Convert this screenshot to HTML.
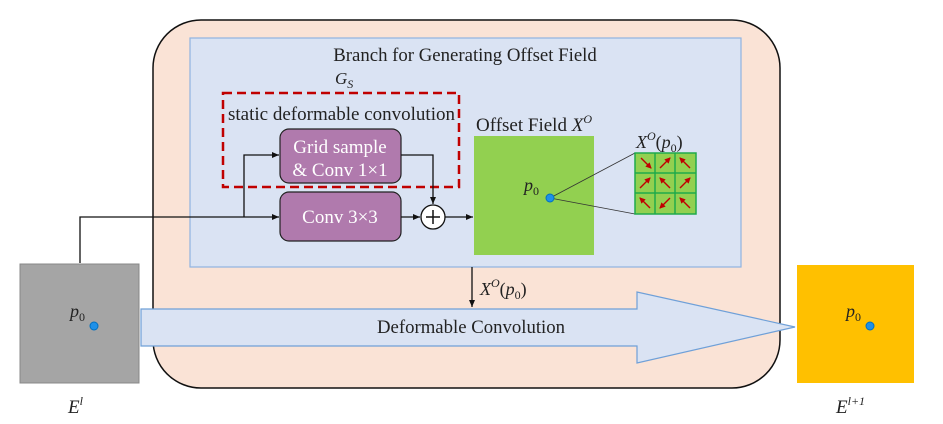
<!DOCTYPE html>
<html><head><meta charset="utf-8"><style>body{margin:0;background:#fff}svg{display:block}text{font-family:"Liberation Serif",serif;fill:#222}</style></head><body>
<svg width="943" height="424" viewBox="0 0 943 424" xmlns="http://www.w3.org/2000/svg">
<defs><marker id="a" markerWidth="8" markerHeight="8" refX="7" refY="4" orient="auto" markerUnits="userSpaceOnUse"><path d="M0,1 L7,4 L0,7 z" fill="#111"/></marker>
<marker id="r" markerWidth="6" markerHeight="6" refX="5" refY="3" orient="auto" markerUnits="userSpaceOnUse"><path d="M0,0 L6,3 L0,6 z" fill="#c00000"/></marker></defs>
<rect x="153" y="20" width="627" height="368" rx="48" fill="#fae3d6" stroke="#111" stroke-width="1.5"/>
<rect x="190" y="38" width="551" height="229" fill="#dae3f3" stroke="#8fb4e0" stroke-width="1.2"/>
<text x="465" y="61" font-size="18.8" text-anchor="middle">Branch for Generating Offset Field</text>
<text x="335" y="84" font-size="17" font-style="italic">G<tspan font-size="12" dy="4">S</tspan></text>
<rect x="223" y="93" width="236" height="94" fill="none" stroke="#c00000" stroke-width="2.5" stroke-dasharray="9,5"/>
<text x="228" y="120" font-size="19" textLength="227" lengthAdjust="spacingAndGlyphs">static deformable convolution</text>
<rect x="280" y="129" width="121" height="54" rx="9" fill="#b07aad" stroke="#222" stroke-width="1.2"/>
<text x="340" y="153" font-size="19" text-anchor="middle" style="fill:#fff">Grid sample</text>
<text x="340" y="176" font-size="19" text-anchor="middle" style="fill:#fff">&amp; Conv 1×1</text>
<rect x="280" y="192" width="121" height="49" rx="9" fill="#b07aad" stroke="#222" stroke-width="1.2"/>
<text x="340" y="223" font-size="19" text-anchor="middle" style="fill:#fff">Conv 3×3</text>
<path d="M80,263 V217 H279" fill="none" stroke="#111" stroke-width="1.3" marker-end="url(#a)"/>
<path d="M244,217 V155 H279" fill="none" stroke="#111" stroke-width="1.3" marker-end="url(#a)"/>
<path d="M401,155 H433 V204" fill="none" stroke="#111" stroke-width="1.3" marker-end="url(#a)"/>
<path d="M401,217 H420" fill="none" stroke="#111" stroke-width="1.3" marker-end="url(#a)"/>
<circle cx="433" cy="217" r="12" fill="#fff" stroke="#111" stroke-width="1.3"/>
<path d="M426,217 H440 M433,210 V224" stroke="#111" stroke-width="1.5"/>
<path d="M445,217 H473" fill="none" stroke="#111" stroke-width="1.3" marker-end="url(#a)"/>
<text x="476" y="131" font-size="19">Offset Field <tspan font-style="italic">X</tspan><tspan font-size="12" dy="-8" font-style="italic">O</tspan></text>
<rect x="474" y="136" width="120" height="119" fill="#92d050"/>
<text x="524" y="191" font-size="18" font-style="italic">p<tspan font-size="12" dy="4" font-style="normal">0</tspan></text>
<line x1="550" y1="198" x2="635" y2="153" stroke="#333" stroke-width="0.8"/>
<line x1="550" y1="198" x2="635" y2="214" stroke="#333" stroke-width="0.8"/>
<circle cx="550" cy="198" r="4.5" fill="#0070c0"/><circle cx="550" cy="198" r="3.5" fill="#1e90e8"/>
<text x="636" y="148" font-size="18"><tspan font-style="italic">X</tspan><tspan font-size="12" dy="-8" font-style="italic">O</tspan><tspan dy="8">(</tspan><tspan font-style="italic">p</tspan><tspan font-size="12" dy="4">0</tspan><tspan dy="-4">)</tspan></text>
<g stroke="#1faa4a" stroke-width="1.5" fill="#92d050"><rect x="635" y="153" width="61" height="61"/><path d="M655,153 V214 M675,153 V214 M635,173 H696 M635,193 H696" fill="none"/></g>
<g stroke="#c00000" stroke-width="1.4" marker-end="url(#r)">
<line x1="641" y1="158" x2="651" y2="168"/><line x1="660" y1="168" x2="670" y2="158"/><line x1="690" y1="168" x2="680" y2="158"/>
<line x1="640" y1="188" x2="650" y2="178"/><line x1="670" y1="188" x2="660" y2="178"/><line x1="680" y1="188" x2="690" y2="178"/>
<line x1="650" y1="208" x2="640" y2="198"/><line x1="670" y1="198" x2="660" y2="208"/><line x1="690" y1="208" x2="680" y2="198"/></g>
<path d="M472,267 V307" fill="none" stroke="#111" stroke-width="1.3" marker-end="url(#a)"/>
<text x="480" y="295" font-size="18"><tspan font-style="italic">X</tspan><tspan font-size="12" dy="-8" font-style="italic">O</tspan><tspan dy="8">(</tspan><tspan font-style="italic">p</tspan><tspan font-size="12" dy="4">0</tspan><tspan dy="-4">)</tspan></text>
<rect x="20" y="264" width="119" height="119" fill="#a5a5a5" stroke="#888"/>
<text x="70" y="317" font-size="18" font-style="italic">p<tspan font-size="12" dy="4" font-style="normal">0</tspan></text>
<circle cx="94" cy="326" r="4.5" fill="#0070c0"/><circle cx="94" cy="326" r="3.5" fill="#1e90e8"/>
<rect x="797" y="265" width="117" height="118" fill="#ffc000"/>
<text x="846" y="317" font-size="18" font-style="italic">p<tspan font-size="12" dy="4" font-style="normal">0</tspan></text>
<circle cx="870" cy="326" r="4.5" fill="#0070c0"/><circle cx="870" cy="326" r="3.5" fill="#1e90e8"/>
<path d="M141,309 H637 V292 L795,327 L637,363 V346 H141 Z" fill="#dae3f3" stroke="#6fa0d8" stroke-width="1.2"/>
<text x="471" y="333" font-size="19" text-anchor="middle" textLength="188" lengthAdjust="spacingAndGlyphs">Deformable Convolution</text>
<text x="68" y="413" font-size="19" font-style="italic">E<tspan font-size="12" dy="-8">l</tspan></text>
<text x="836" y="413" font-size="19" font-style="italic">E<tspan font-size="12" dy="-8">l+1</tspan></text>
</svg>
</body></html>
